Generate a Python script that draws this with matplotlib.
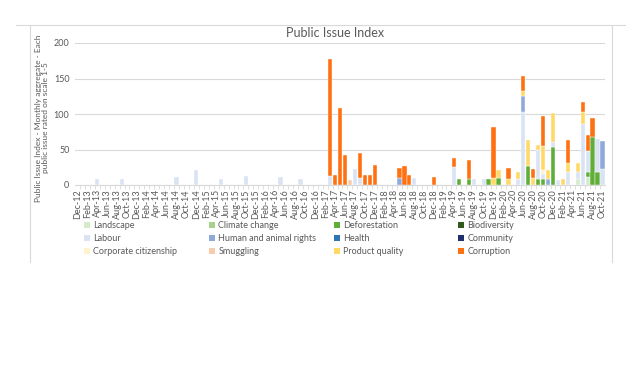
import matplotlib.pyplot as plt
import numpy as np
import pandas as pd
from matplotlib.patches import Patch
from matplotlib.lines import Line2D

plt.rcParams['font.family'] = ['Lato', 'DejaVu Sans']

# months Dec-12 .. Oct-21 (category axis)
months = pd.date_range('2012-12-01', '2021-10-01', freq='MS').strftime('%b-%y').tolist()

# each issue's value in the months where it shows up (all other months are 0)
landscape = {'May-21': 9, 'Jul-21': 11}
climate_change = {}
deforestation = {'May-19': 9, 'Jul-19': 9, 'Nov-19': 9, 'Jan-20': 10, 'Jul-20': 27,
                 'Sep-20': 8, 'Oct-20': 8, 'Dec-20': 53, 'Jul-21': 8, 'Aug-21': 67,
                 'Sep-21': 18}
biodiversity = {}
labour = {'Apr-13': 8, 'Sep-13': 9, 'Aug-14': 11, 'Dec-14': 21, 'May-15': 9, 'Oct-15': 12,
          'May-16': 11, 'Sep-16': 9, 'Mar-17': 13, 'Aug-17': 22, 'Sep-17': 10,
          'Aug-18': 10, 'Apr-19': 25, 'Aug-19': 8, 'Oct-19': 9, 'May-20': 8, 'Jun-20': 103,
          'Sep-20': 41, 'Oct-20': 7, 'Dec-20': 8, 'Jan-21': 7, 'Mar-21': 19, 'May-21': 10,
          'Jun-21': 86, 'Jul-21': 29, 'Sep-21': 47, 'Oct-21': 22}
human_rights = {'May-18': 10, 'Jun-20': 23, 'Nov-20': 9, 'Oct-21': 40}
health = {}
community = {}
corporate = {'Oct-20': 6}
smuggling = {'Jul-17': 7}
product_quality = {'Dec-19': 10, 'Jan-20': 11, 'Mar-20': 8, 'May-20': 10, 'Jun-20': 6,
                   'Jul-20': 37, 'Aug-20': 10, 'Sep-20': 8, 'Oct-20': 34, 'Nov-20': 12,
                   'Dec-20': 40, 'Feb-21': 9, 'Mar-21': 12, 'May-21': 12, 'Jun-21': 17}
corruption = {'Mar-17': 164, 'Apr-17': 14, 'May-17': 109, 'Jun-17': 42, 'Sep-17': 35,
              'Oct-17': 14, 'Nov-17': 14, 'Dec-17': 28, 'May-18': 14, 'Jun-18': 27,
              'Jul-18': 14, 'Dec-18': 11, 'Apr-19': 13, 'Jul-19': 26, 'Dec-19': 71,
              'Mar-20': 16, 'Jun-20': 22, 'Aug-20': 13, 'Oct-20': 42, 'Mar-21': 33,
              'Jun-21': 14, 'Jul-21': 22, 'Aug-21': 27}

names = ['Landscape', 'Climate change', 'Deforestation', 'Biodiversity',
         'Labour', 'Human and animal rights', 'Health', 'Community',
         'Corporate citizenship', 'Smuggling', 'Product quality', 'Corruption']
series = [landscape, climate_change, deforestation, biodiversity, labour, human_rights,
          health, community, corporate, smuggling, product_quality, corruption]
colors = ['#d3ebc9', '#a9d18e', '#5eae38', '#2f5a1c', '#dae3f3', '#8eaadb',
          '#2e75b6', '#1f2f6e', '#fff2cc', '#f8cbad', '#ffd966', '#ff7010']

grey = '#595959'
fig = plt.figure(figsize=(6.4, 3.78), dpi=100)
ax = fig.add_axes([75 / 640, 1 - 185 / 378, 530 / 640, 142 / 378])

x = np.arange(len(months))
bottom = np.zeros(len(months))
for name, s, c in zip(names, series, colors):
    vals = np.array([s.get(m, 0) for m in months], dtype=float)
    mask = vals > 0
    ax.bar(x[mask], vals[mask], bottom=bottom[mask], width=0.86, color=c,
           edgecolor='white', linewidth=0.3, zorder=3)
    bottom += vals

ax.set_xlim(-0.5, len(months) - 0.5)
ax.set_ylim(0, 200)
ax.set_yticks([0, 50, 100, 150, 200])
ax.yaxis.grid(True, color='#d9d9d9', linewidth=0.8, zorder=0)
for sp in ['top', 'right', 'left']:
    ax.spines[sp].set_visible(False)
ax.spines['bottom'].set_color('#d9d9d9')
ax.tick_params(axis='y', length=0, labelsize=6.5, labelcolor=grey, pad=4)
ax.set_xticks(x[::2])
ax.set_xticklabels(months[::2], rotation=90, fontsize=6.5, color=grey)
ax.set_xticks(x[:-1] + 0.5, minor=True)
ax.tick_params(axis='x', which='major', length=0, pad=3)
ax.tick_params(axis='x', which='minor', length=3, color='#d9d9d9')

fig.text(335 / 640, 1 - 33 / 378, 'Public Issue Index', ha='center', va='center',
         fontsize=9, color=grey)
fig.text(42 / 640, 1 - 118 / 378,
         'Public Issue Index - Monthly aggregate - Each\npublic issue rated on scale 1-5',
         rotation=90, ha='center', va='center', multialignment='center',
         fontsize=6, color=grey, linespacing=1.15)

# legend: 4 columns filled row-wise like the original
handles = [Patch(facecolor=c, edgecolor='none') for c in colors]
col_x = [84, 209, 334, 458]
for k in range(4):
    leg = fig.legend(handles[k::4], names[k::4], loc='upper left',
                     bbox_to_anchor=(col_x[k] / 640, 1 - 221 / 378),
                     frameon=False, fontsize=6.5, handlelength=0.7, handleheight=0.7,
                     handletextpad=0.35, labelspacing=0.45, borderpad=0, borderaxespad=0)
    for t in leg.get_texts():
        t.set_color(grey)

# chart frame lines
fig.add_artist(Line2D([16 / 640, 625 / 640], [1 - 25 / 378] * 2, color='#d9d9d9', lw=0.8))
fig.add_artist(Line2D([30 / 640] * 2, [1 - 25 / 378, 1 - 262 / 378], color='#d9d9d9', lw=0.8))
fig.add_artist(Line2D([612 / 640] * 2, [1 - 25 / 378, 1 - 262 / 378], color='#d9d9d9', lw=0.8))

fig.savefig('out.png', dpi=100)
